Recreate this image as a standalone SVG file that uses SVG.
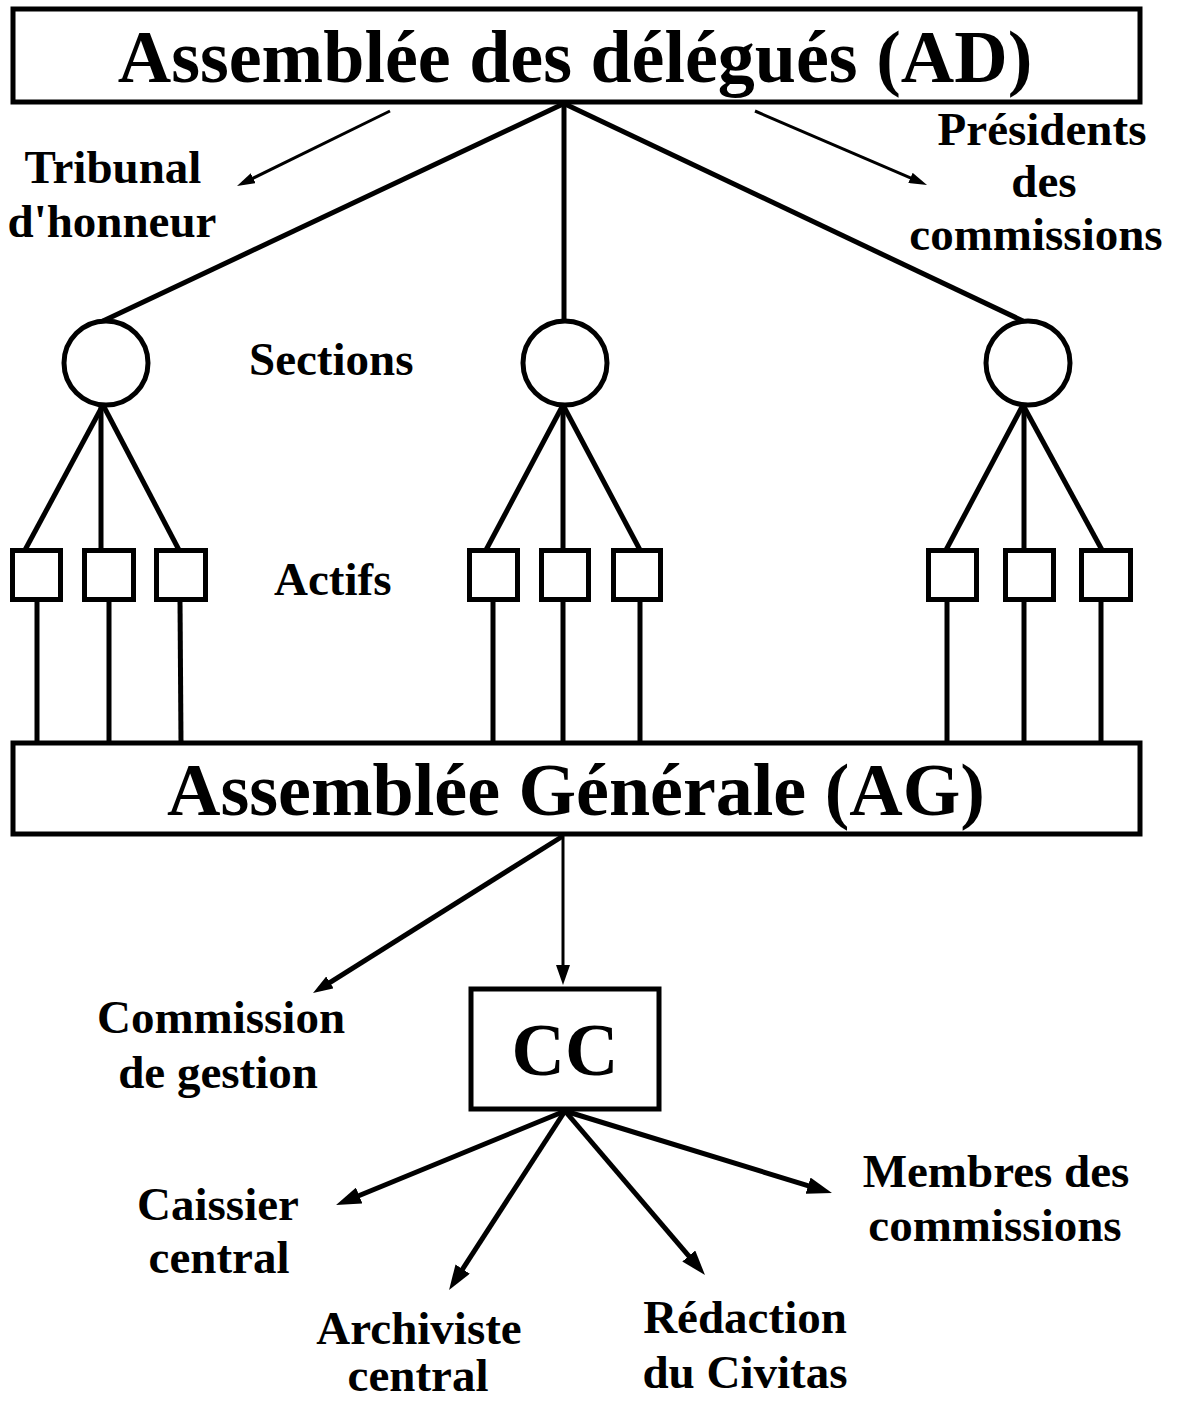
<svg xmlns="http://www.w3.org/2000/svg" width="1184" height="1403" viewBox="0 0 1184 1403">
<style>
  .box { fill: #fff; stroke: #000; stroke-width: 5; }
  .sec { fill: #fff; stroke: #000; stroke-width: 5; }
  .line { fill: none; stroke: #000; stroke-width: 5; }
  .thin { fill: none; stroke: #000; stroke-width: 3; }
  .big { font-family: "Liberation Serif", "Times New Roman", serif; font-weight: bold; font-size: 74px; fill: #000; }
  .lbl { font-family: "Liberation Serif", "Times New Roman", serif; font-weight: bold; font-size: 47px; fill: #000; }
</style>
<defs>
  <marker id="ah-s" viewBox="0 0 18 11" refX="12" refY="5.5" markerWidth="18" markerHeight="11" markerUnits="userSpaceOnUse" orient="auto">
    <path d="M0,0 L18,5.5 L0,11 z" fill="#000"/>
  </marker>
  <marker id="ah-m" viewBox="0 0 20 14" refX="12" refY="7" markerWidth="20" markerHeight="14" markerUnits="userSpaceOnUse" orient="auto">
    <path d="M0,0 L20,7 L0,14 z" fill="#000"/>
  </marker>
  <marker id="ah-l" viewBox="0 0 25 17" refX="15" refY="8.5" markerWidth="25" markerHeight="17" markerUnits="userSpaceOnUse" orient="auto">
    <path d="M0,0 L25,8.5 L0,17 z" fill="#000"/>
  </marker>
</defs>
<rect width="1184" height="1403" fill="#fff"/>

<g id="connectors">
  <!-- AD to sections -->
  <line class="line" x1="563" y1="104" x2="103" y2="321"/>
  <line class="line" x1="564" y1="104" x2="564" y2="321"/>
  <line class="line" x1="565" y1="104" x2="1023" y2="321"/>
  <!-- AD side arrows -->
  <line class="thin" x1="390" y1="111" x2="242.4" y2="183.4" marker-end="url(#ah-s)"/>
  <line class="thin" x1="755" y1="111" x2="921.5" y2="182.6" marker-end="url(#ah-s)"/>
  <!-- section 1 to actifs -->
  <line class="line" x1="103" y1="405" x2="25" y2="550"/>
  <line class="line" x1="101" y1="405" x2="101" y2="550"/>
  <line class="line" x1="103" y1="405" x2="179" y2="550"/>
  <!-- section 2 to actifs -->
  <line class="line" x1="563" y1="405" x2="486" y2="550"/>
  <line class="line" x1="563" y1="405" x2="563" y2="550"/>
  <line class="line" x1="563" y1="405" x2="640" y2="550"/>
  <!-- section 3 to actifs -->
  <line class="line" x1="1023" y1="405" x2="946" y2="550"/>
  <line class="line" x1="1024" y1="405" x2="1024" y2="555"/>
  <line class="line" x1="1023" y1="405" x2="1102" y2="550"/>
  <!-- actifs to AG -->
  <line class="line" x1="37" y1="600" x2="37" y2="743"/>
  <line class="line" x1="109" y1="600" x2="109" y2="743"/>
  <line class="line" x1="180" y1="600" x2="181" y2="743"/>
  <line class="line" x1="493" y1="600" x2="493" y2="743"/>
  <line class="line" x1="563" y1="600" x2="563" y2="743"/>
  <line class="line" x1="640" y1="600" x2="640" y2="743"/>
  <line class="line" x1="947" y1="600" x2="947" y2="743"/>
  <line class="line" x1="1024" y1="600" x2="1024" y2="743"/>
  <line class="line" x1="1101" y1="600" x2="1101" y2="743"/>
  <!-- AG arrows -->
  <line class="thin" x1="563" y1="836" x2="563" y2="977" marker-end="url(#ah-m)"/>
  <line class="line" x1="563" y1="836" x2="319.8" y2="988.8" marker-end="url(#ah-m)"/>
  <!-- CC arrows -->
  <line class="line" x1="565" y1="1111" x2="345.3" y2="1201.2" marker-end="url(#ah-l)"/>
  <line class="line" x1="565" y1="1111" x2="454.5" y2="1281.6" marker-end="url(#ah-l)"/>
  <line class="line" x1="565" y1="1111" x2="698.5" y2="1267.4" marker-end="url(#ah-l)"/>
  <line class="line" x1="565" y1="1111" x2="822.4" y2="1190.1" marker-end="url(#ah-l)"/>
</g>

<g id="node-ad">
  <rect class="box" x="13" y="9" width="1127" height="93"/>
  <text class="big" x="575" y="82" text-anchor="middle">Assemblée des délégués (AD)</text>
</g>

<g id="node-tribunal">
  <text class="lbl" x="113" y="183" text-anchor="middle">Tribunal</text>
  <text class="lbl" x="112" y="237" text-anchor="middle">d'honneur</text>
</g>

<g id="node-presidents">
  <text class="lbl" x="1042" y="145" text-anchor="middle">Présidents</text>
  <text class="lbl" x="1044" y="197" text-anchor="middle">des</text>
  <text class="lbl" x="1036" y="250" text-anchor="middle">commissions</text>
</g>

<g id="node-sections">
  <circle class="sec" cx="106" cy="363" r="42"/>
  <circle class="sec" cx="565" cy="363" r="42"/>
  <circle class="sec" cx="1028" cy="363" r="42"/>
  <text class="lbl" x="249" y="375">Sections</text>
</g>

<g id="node-actifs">
  <rect class="box" x="12.5" y="550.5" width="48" height="49"/>
  <rect class="box" x="84.5" y="550.5" width="49" height="49"/>
  <rect class="box" x="156.5" y="550.5" width="49" height="49"/>
  <rect class="box" x="469.5" y="550.5" width="48" height="49"/>
  <rect class="box" x="541.5" y="550.5" width="47" height="49"/>
  <rect class="box" x="613.5" y="550.5" width="47" height="49"/>
  <rect class="box" x="928.5" y="550.5" width="48" height="49"/>
  <rect class="box" x="1005.5" y="550.5" width="48" height="49"/>
  <rect class="box" x="1081.5" y="550.5" width="49" height="49"/>
  <text class="lbl" x="274" y="595">Actifs</text>
</g>

<g id="node-ag">
  <rect class="box" x="13" y="743" width="1127" height="91"/>
  <text class="big" x="576" y="815" text-anchor="middle">Assemblée Générale (AG)</text>
</g>

<g id="node-commission-gestion">
  <text class="lbl" x="221" y="1033" text-anchor="middle">Commission</text>
  <text class="lbl" x="218" y="1088" text-anchor="middle">de gestion</text>
</g>

<g id="node-cc">
  <rect class="box" x="471" y="989" width="188" height="120"/>
  <text class="big" x="565" y="1075" text-anchor="middle">CC</text>
</g>

<g id="node-caissier">
  <text class="lbl" x="218" y="1220" text-anchor="middle">Caissier</text>
  <text class="lbl" x="219" y="1273" text-anchor="middle">central</text>
</g>

<g id="node-archiviste">
  <text class="lbl" x="419" y="1344" text-anchor="middle">Archiviste</text>
  <text class="lbl" x="418" y="1391" text-anchor="middle">central</text>
</g>

<g id="node-redaction">
  <text class="lbl" x="745" y="1333" text-anchor="middle">Rédaction</text>
  <text class="lbl" x="745" y="1388" text-anchor="middle">du Civitas</text>
</g>

<g id="node-membres">
  <text class="lbl" x="996" y="1187" text-anchor="middle">Membres des</text>
  <text class="lbl" x="995" y="1241" text-anchor="middle">commissions</text>
</g>
</svg>
